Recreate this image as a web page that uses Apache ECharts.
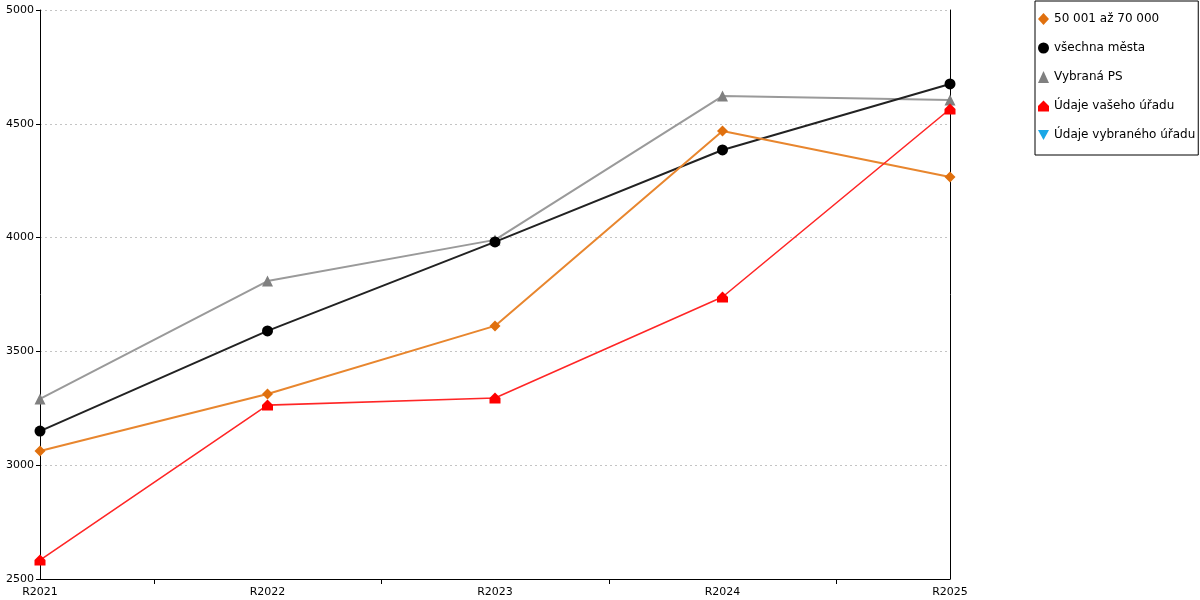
<!DOCTYPE html>
<html style="height: 100%">
<head>
    <meta charset="utf-8">
</head>
<body style="height: 100%; margin: 0">
    <div id="container" style="width: 1200px; height: 600px"></div>
    <script type="text/javascript" src="https://cdn.jsdelivr.net/npm/echarts/dist/echarts.min.js"></script>
    <script type="text/javascript">
        var categories = ['R2021', 'R2022', 'R2023', 'R2024', 'R2025'];
        var velikost = [3062, 3313, 3612, 4468, 4266];      // 50 001 až 70 000
        var vsechnaMesta = [3150, 3590, 3981, 4385, 4675];
        var vybranaPS = [3291, 3809, 3990, 4622, 4605];
        var vasUrad = [2583, 3264, 3295, 3739, 4565];
        var vybranyUrad = [];

        var houseIcon = 'path://M0,5 L5,0 L10,5 L10,10 L0,10 Z';
        var downIcon = 'path://M0,0 L10,0 L5,9 Z';

        function toPoints(arr) {
            return arr.map(function (v, i) { return [i, v]; });
        }

        var dom = document.getElementById('container');
        var myChart = echarts.init(dom);
        var font = 'DejaVu Sans';

        var option = {
            animation: false,
            textStyle: { fontFamily: font },
            legend: {
                orient: 'vertical',
                left: 1035,
                top: 1,
                padding: [12, 3, 14, 3],
                itemGap: 17,
                itemWidth: 11,
                itemHeight: 12,
                borderColor: '#000',
                borderWidth: 1,
                textStyle: { fontFamily: font, fontSize: 12, color: '#000' },
                data: [
                    { name: '50 001 až 70 000', icon: 'diamond' },
                    { name: 'všechna města', icon: 'circle' },
                    { name: 'Vybraná PS', icon: 'triangle' },
                    { name: 'Údaje vašeho úřadu', icon: houseIcon },
                    { name: 'Údaje vybraného úřadu', icon: downIcon }
                ]
            },
            grid: {
                left: 40,
                right: 250,
                top: 10,
                bottom: 21,
                containLabel: false
            },
            xAxis: {
                type: 'value',
                min: 0,
                max: categories.length - 1,
                interval: 1,
                axisLine: { show: true, onZero: false, lineStyle: { color: '#000', width: 1 } },
                axisTick: { show: false },
                minorTick: { show: true, splitNumber: 2, length: 5, lineStyle: { color: '#000', width: 1 } },
                splitLine: { show: false },
                axisLabel: {
                    color: '#000',
                    fontSize: 11,
                    margin: 8,
                    formatter: function (v) { return categories[v] || ''; }
                }
            },
            yAxis: [{
                type: 'value',
                min: 2500,
                max: 5000,
                interval: 500,
                axisLine: { show: true, lineStyle: { color: '#000', width: 1 } },
                axisTick: { show: true, length: 4, lineStyle: { color: '#000' } },
                axisLabel: { color: '#000', fontSize: 11, margin: 6, formatter: function (v) { return String(v); } },
                splitLine: { show: true, lineStyle: { color: '#c4c4c4', type: [2, 3], width: 1 } }
            }, {
                type: 'value',
                position: 'right',
                min: 2500,
                max: 5000,
                interval: 500,
                axisLine: { show: true, lineStyle: { color: '#000', width: 1 } },
                axisTick: { show: false },
                axisLabel: { show: false },
                splitLine: { show: false }
            }],
            series: [{
                name: 'Vybraná PS',
                type: 'line',
                symbol: 'triangle',
                symbolSize: 11,
                itemStyle: { color: '#808080' },
                lineStyle: { color: '#9a9a9a', width: 2 },
                data: toPoints(vybranaPS)
            }, {
                name: 'všechna města',
                type: 'line',
                symbol: 'circle',
                symbolSize: 11,
                itemStyle: { color: '#000' },
                lineStyle: { color: '#222', width: 2 },
                data: toPoints(vsechnaMesta)
            }, {
                name: '50 001 až 70 000',
                type: 'line',
                symbol: 'diamond',
                symbolSize: 11,
                itemStyle: { color: '#e0700e' },
                lineStyle: { color: '#e8862e', width: 2 },
                data: toPoints(velikost)
            }, {
                name: 'Údaje vašeho úřadu',
                type: 'line',
                symbol: houseIcon,
                symbolSize: 11,
                itemStyle: { color: '#ff0000' },
                lineStyle: { color: '#ff2626', width: 1.6 },
                data: toPoints(vasUrad)
            }, {
                name: 'Údaje vybraného úřadu',
                type: 'line',
                symbol: downIcon,
                symbolSize: 11,
                itemStyle: { color: '#1aa7e6' },
                lineStyle: { color: '#1aa7e6', width: 2 },
                data: toPoints(vybranyUrad)
            }]
        };
        myChart.setOption(option, true);
    </script>
</body>
</html>
